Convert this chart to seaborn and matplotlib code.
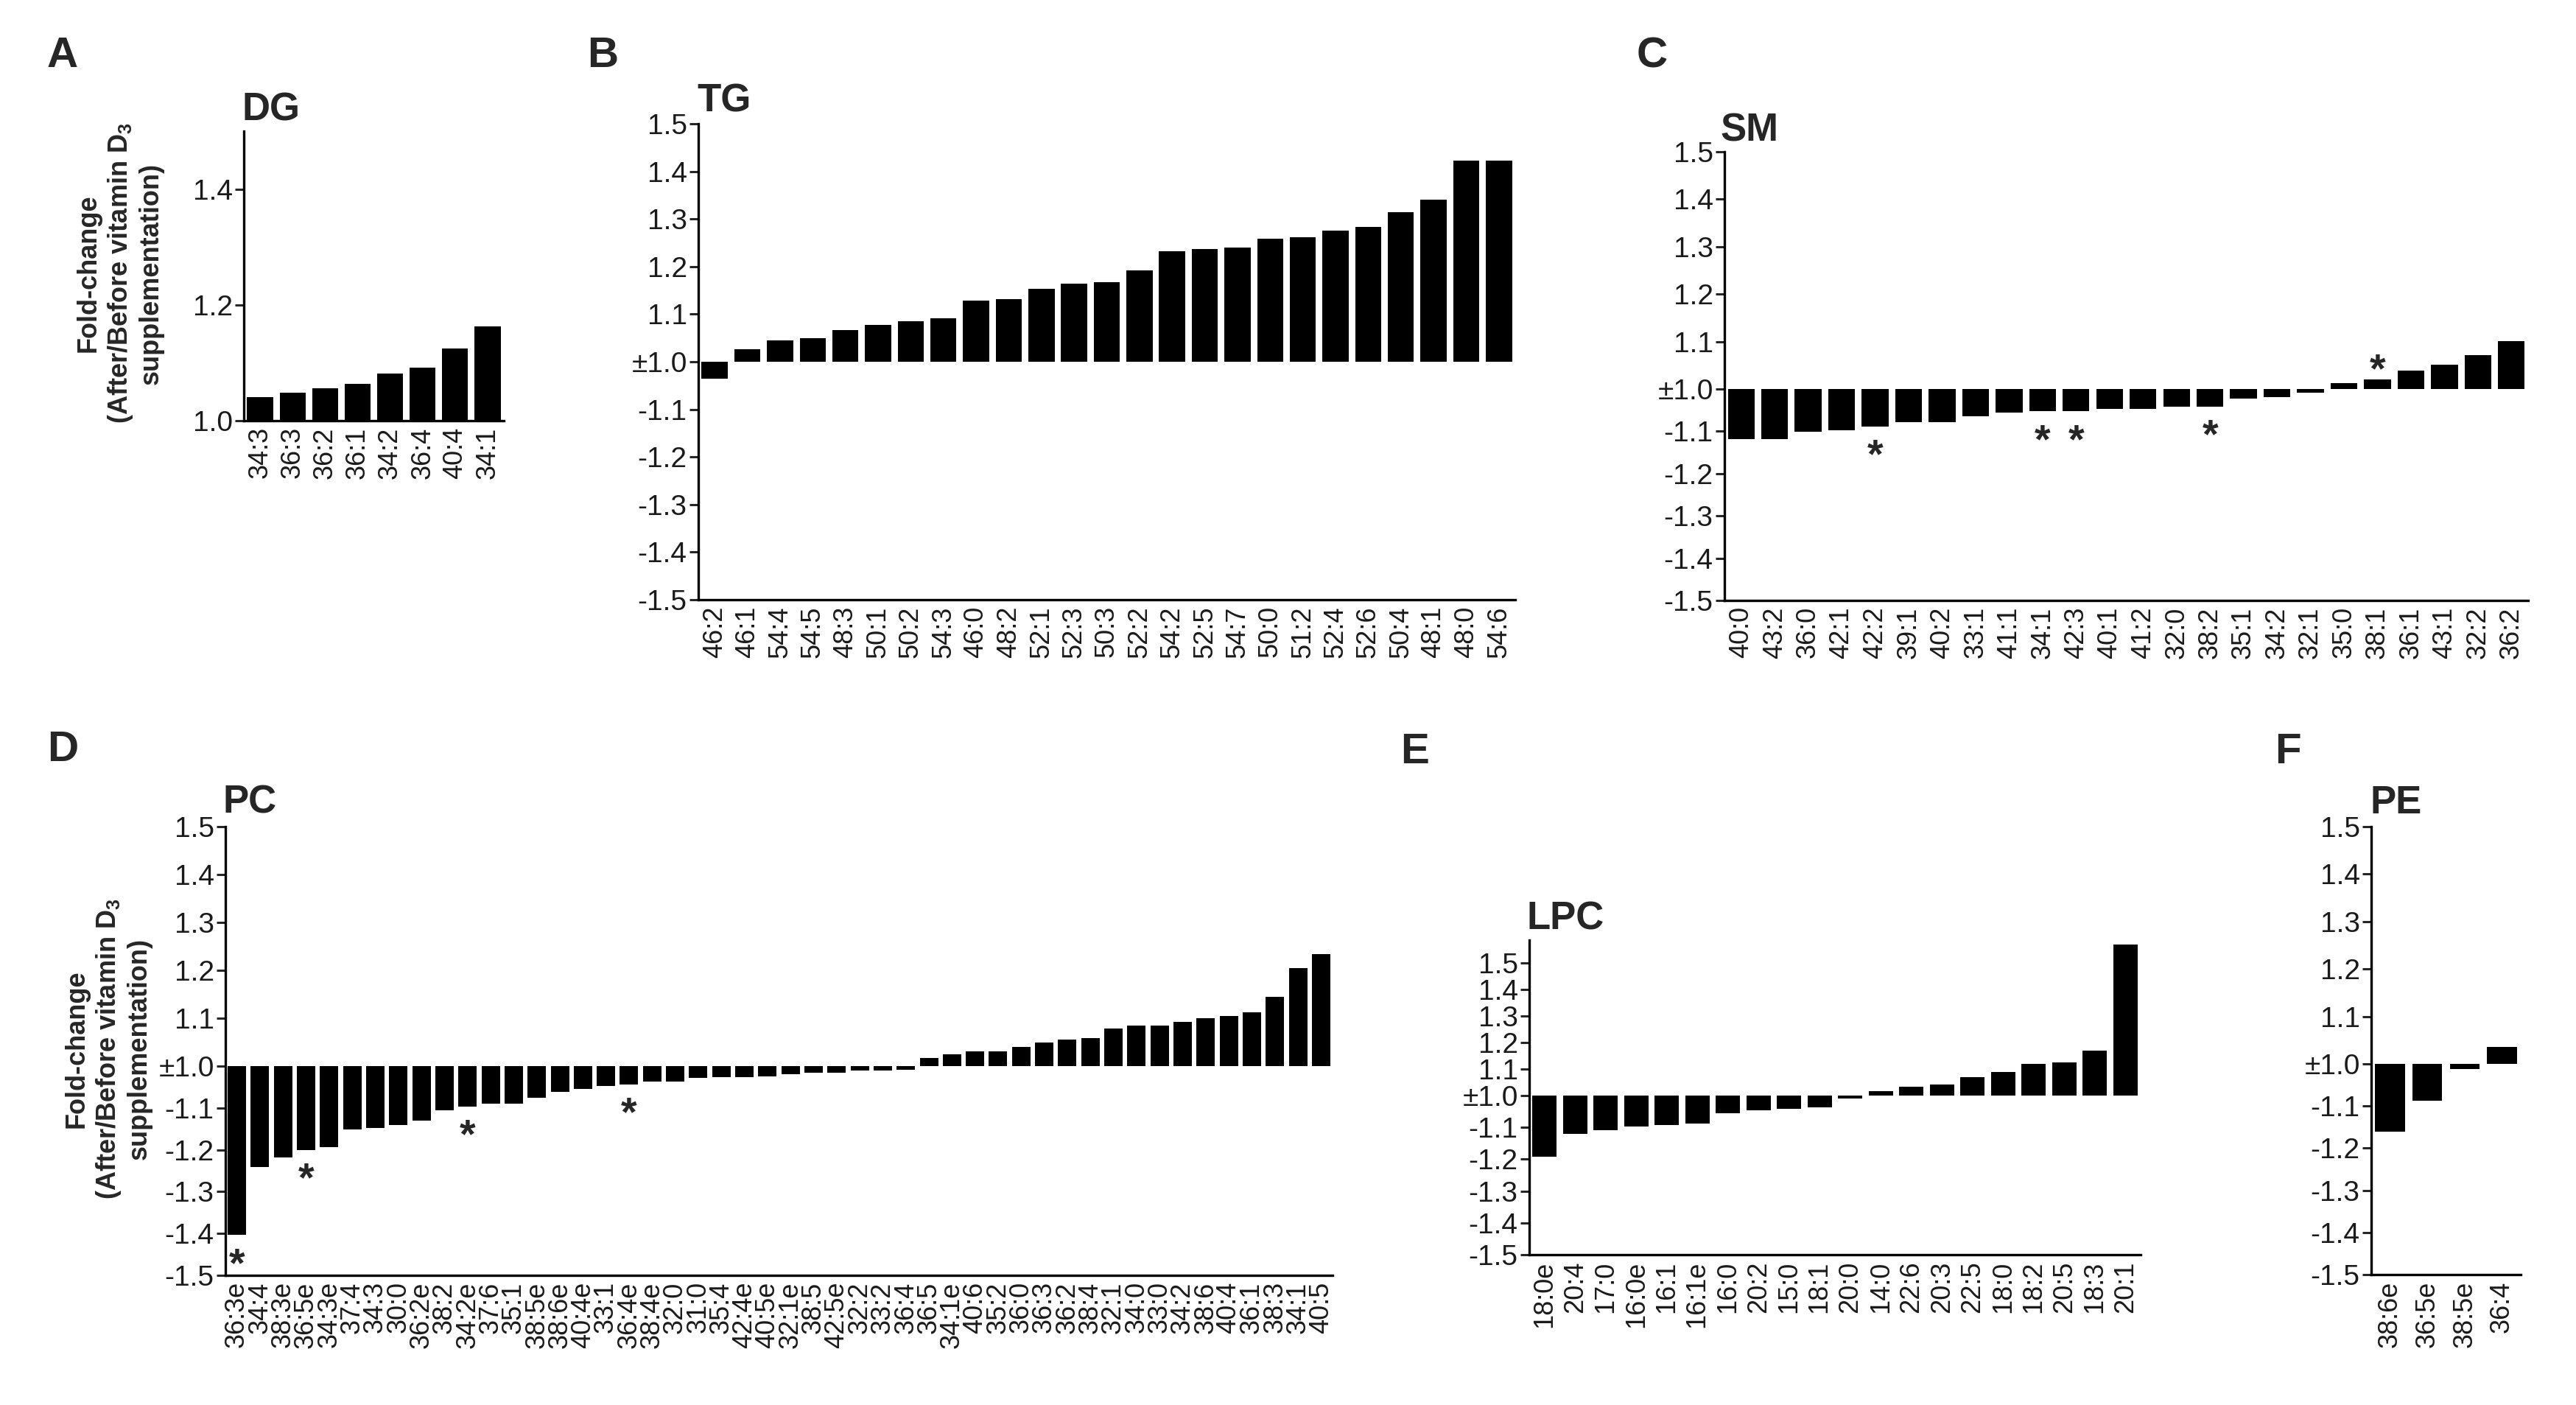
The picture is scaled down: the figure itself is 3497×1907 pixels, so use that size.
import matplotlib
matplotlib.use("Agg")
import matplotlib.pyplot as plt
import numpy as np
import pandas as pd
import seaborn as sns

# ---- data (fold-change, negative = decrease) ----
dg_labels = ["34:3", "36:3", "36:2", "36:1", "34:2", "36:4", "40:4", "34:1"]
dg_fold = [1.041, 1.048, 1.056, 1.064, 1.082, 1.091, 1.125, 1.163]

tg_labels = ["46:2", "46:1", "54:4", "54:5", "48:3", "50:1", "50:2", "54:3", "46:0",
             "48:2", "52:1", "52:3", "50:3", "52:2", "54:2", "52:5", "54:7", "50:0",
             "51:2", "52:4", "52:6", "50:4", "48:1", "48:0", "54:6"]
tg_fold = [-1.036, 1.026, 1.045, 1.049, 1.066, 1.078, 1.085, 1.091, 1.128,
           1.131, 1.154, 1.164, 1.167, 1.192, 1.232, 1.237, 1.240, 1.258,
           1.261, 1.276, 1.284, 1.315, 1.340, 1.422, 1.422]

sm_labels = ["40:0", "43:2", "36:0", "42:1", "42:2", "39:1", "40:2", "33:1", "41:1",
             "34:1", "42:3", "40:1", "41:2", "32:0", "38:2", "35:1", "34:2", "32:1",
             "35:0", "38:1", "36:1", "43:1", "32:2", "36:2"]
sm_fold = [-1.119, -1.119, -1.101, -1.098, -1.088, -1.078, -1.078, -1.064, -1.056,
           -1.053, -1.053, -1.047, -1.047, -1.042, -1.042, -1.022, -1.019, -1.008,
           1.013, 1.021, 1.039, 1.052, 1.072, 1.101]
sm_stars = ["42:2", "34:1", "42:3", "38:2", "38:1"]

pc_labels = ["36:3e", "34:4", "38:3e", "36:5e", "34:3e", "37:4", "34:3", "30:0", "36:2e",
             "38:2", "34:2e", "37:6", "35:1", "38:5e", "38:6e", "40:4e", "33:1", "36:4e",
             "38:4e", "32:0", "31:0", "35:4", "42:4e", "40:5e", "32:1e", "38:5", "42:5e",
             "32:2", "33:2", "36:4", "36:5", "34:1e", "40:6", "35:2", "36:0", "36:3",
             "36:2", "38:4", "32:1", "34:0", "33:0", "34:2", "38:6", "40:4", "36:1",
             "38:3", "34:1", "40:5"]
pc_fold = [-1.404, -1.242, -1.219, -1.200, -1.193, -1.152, -1.148, -1.141, -1.130,
           -1.106, -1.097, -1.090, -1.090, -1.075, -1.062, -1.054, -1.048, -1.044,
           -1.037, -1.037, -1.029, -1.026, -1.026, -1.024, -1.020, -1.016, -1.016,
           -1.010, -1.010, -1.008, 1.017, 1.025, 1.031, 1.031, 1.040, 1.049,
           1.055, 1.058, 1.079, 1.085, 1.085, 1.092, 1.100, 1.104, 1.113,
           1.145, 1.204, 1.234]
pc_stars = ["36:3e", "36:5e", "34:2e", "36:4e"]

lpc_labels = ["18:0e", "20:4", "17:0", "16:0e", "16:1", "16:1e", "16:0", "20:2", "15:0",
              "18:1", "20:0", "14:0", "22:6", "20:3", "22:5", "18:0", "18:2", "20:5",
              "18:3", "20:1"]
lpc_fold = [-1.192, -1.119, -1.108, -1.096, -1.093, -1.088, -1.055, -1.047, -1.041,
            -1.037, -1.010, 1.016, 1.033, 1.043, 1.070, 1.090, 1.120, 1.125,
            1.169, 1.570]

pe_labels = ["38:6e", "36:5e", "38:5e", "36:4"]
pe_fold = [-1.160, -1.088, -1.013, 1.036]

ylab = "Fold-change\n(After/Before vitamin D$_\\mathregular{3}$\nsupplementation)"

# ---- style ----
sns.set_style("ticks")
plt.rcParams["font.family"] = ["Liberation Sans", "DejaVu Sans"]
plt.rcParams["mathtext.default"] = "regular"

W, H = 3498, 1907
fig = plt.figure(figsize=(W / 100, H / 100), dpi=100)


def pix(left, top, right, bottom):
    return [left / W, 1 - bottom / H, (right - left) / W, (bottom - top) / H]


def to_offset(fold):
    fold = np.asarray(fold, dtype=float)
    return np.where(fold > 0, fold - 1, fold + 1)


def fold_label(d):
    if abs(d) < 1e-9:
        return "\u00b11.0"
    return f"{1 + d:.1f}" if d > 0 else f"{-1 + d:.1f}"


def style_axes(ax, n):
    sns.despine(ax=ax)
    for s in ["left", "bottom"]:
        ax.spines[s].set_linewidth(2.4)
        ax.spines[s].set_color("black")
    ax.set_xlim(-0.5, n - 0.5)
    ax.set_xlabel("")
    ax.set_ylabel("")
    ax.tick_params(axis="x", length=0, pad=6, labelsize=26, labelrotation=90,
                   labelcolor="#1a1a1a")
    ax.tick_params(axis="y", length=9, width=2.2, pad=2, labelsize=28,
                   labelcolor="#1a1a1a")


def panel(box, labels, fold, neg=1.0, top=0.5, stars=()):
    ax = fig.add_axes(pix(*box))
    df = pd.DataFrame({"lipid": labels, "offset": to_offset(fold)})
    sns.barplot(data=df, x="lipid", y="offset", color="black", saturation=1,
                width=0.8, linewidth=0, ax=ax)
    fwd = lambda d: np.where(d < 0, d * neg, d)
    inv = lambda y: np.where(y < 0, y / neg, y)
    ax.set_yscale("function", functions=(fwd, inv))
    ax.set_ylim(-0.5, top)
    ticks = np.round(np.arange(-0.5, 0.51, 0.1), 2)
    ax.set_yticks(ticks)
    ax.set_yticklabels([fold_label(t) for t in ticks])
    style_axes(ax, len(labels))
    for name in stars:
        i = labels.index(name)
        d = df["offset"].iloc[i]
        dy = -40 if d < 0 else -3
        ax.annotate("*", (i, d), xytext=(0, dy), textcoords="offset points",
                    ha="center", va="baseline", fontsize=40, fontweight="bold")
    return ax


# A: DG
ax_dg = fig.add_axes(pix(331, 178, 684, 571))
df_dg = pd.DataFrame({"lipid": dg_labels, "offset": np.asarray(dg_fold) - 1})
sns.barplot(data=df_dg, x="lipid", y="offset", color="black", saturation=1,
            width=0.8, linewidth=0, ax=ax_dg)
ax_dg.set_ylim(0, 0.5)
ax_dg.set_yticks([0, 0.2, 0.4])
ax_dg.set_yticklabels(["1.0", "1.2", "1.4"])
style_axes(ax_dg, len(dg_labels))

panel((948, 168, 2057, 814), tg_labels, tg_fold)
panel((2341, 206, 3432, 815), sm_labels, sm_fold, neg=0.891, stars=sm_stars)
panel((306, 1122, 1809, 1731), pc_labels, pc_fold, neg=0.874, stars=pc_stars)
panel((2076, 1276, 2906, 1703), lpc_labels, lpc_fold, neg=1.2, top=0.587)
panel((3219, 1122, 3422, 1730), pe_labels, pe_fold, neg=0.888)

# titles and panel letters
titles = [("DG", 329, 164), ("TG", 946, 152), ("SM", 2335, 191),
          ("PC", 303, 1104), ("LPC", 2073, 1261), ("PE", 3218, 1104)]
for t, x, y in titles:
    fig.text(x / W, 1 - y / H, t, fontsize=38, fontweight="bold", va="baseline")

letters = [("A", 64, 91), ("B", 797, 91), ("C", 2222, 91),
           ("D", 64, 1033), ("E", 1901, 1036), ("F", 3088, 1036)]
for t, x, y in letters:
    fig.text(x / W, 1 - y / H, t, fontsize=42, fontweight="bold", va="baseline")

for x, y in [(163, 371), (147, 1424)]:
    fig.text(x / W, 1 - y / H, ylab, rotation=90, ha="center", va="center",
             multialignment="center", fontsize=26, fontweight="bold", linespacing=1.2)

fig.savefig("out.png", dpi=100, facecolor="white")
